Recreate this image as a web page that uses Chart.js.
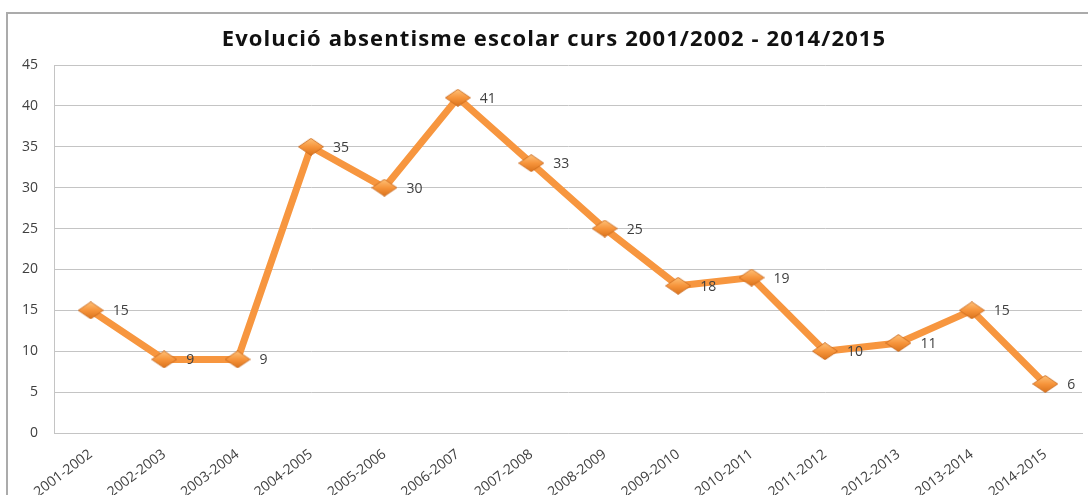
<!DOCTYPE html>
<html>
<head>
<meta charset="utf-8">
<script src="https://cdn.jsdelivr.net/npm/chart.js@4/dist/chart.umd.min.js"></script>
<style>
  html, body { margin: 0; padding: 0; background: #fff; overflow: hidden; }
  body { width: 1088px; height: 495px; position: relative; }
  .frame {
    position: absolute; left: 6px; top: 12px;
    width: 1100px; height: 500px;
    border: 2px solid #ababab;
  }
  .title {
    position: absolute; left: 0; width: 1108px; top: 22px;
    text-align: center;
    font: bold 22px "Open Sans", sans-serif;
    letter-spacing: 1.1px;
    color: #111;
  }
  canvas { position: absolute; left: 0; top: 0; }
</style>
</head>
<body>
<div class="frame">
  <canvas id="lineChart" width="1100" height="500"></canvas>
</div>
<div class="title">Evolució absentisme escolar curs 2001/2002 - 2014/2015</div>
<script>
const courses = ['2001-2002', '2002-2003', '2003-2004', '2004-2005', '2005-2006', '2006-2007', '2007-2008',
  '2008-2009', '2009-2010', '2010-2011', '2011-2012', '2012-2013', '2013-2014', '2014-2015'];
const absences = [15, 9, 9, 35, 30, 41, 33, 25, 18, 19, 10, 11, 15, 6];
const yTicks = [0, 5, 10, 15, 20, 25, 30, 35, 40, 45];

const textColor = '#404040';
const gridColor = '#c4c4c4';

// flattened diamond marker, like the Excel 3D-ish one
function makeDiamond() {
  const c = document.createElement('canvas');
  c.width = 26; c.height = 18;
  const g = c.getContext('2d');
  const grad = g.createLinearGradient(0, 0, 0, 18);
  grad.addColorStop(0, '#ffc47c');
  grad.addColorStop(0.5, '#f7953c');
  grad.addColorStop(1, '#d9711a');
  g.beginPath();
  g.moveTo(13, 0.5);
  g.lineTo(25.5, 9);
  g.lineTo(13, 17.5);
  g.lineTo(0.5, 9);
  g.closePath();
  g.fillStyle = grad;
  g.fill();
  g.strokeStyle = '#c7661a';
  g.lineWidth = 0.8;
  g.stroke();
  return c;
}

const valueLabels = {
  id: 'valueLabels',
  afterDatasetsDraw(chart) {
    const ctx = chart.ctx;
    const meta = chart.getDatasetMeta(0);
    ctx.save();
    ctx.font = '14px "Open Sans", sans-serif';
    ctx.fillStyle = textColor;
    ctx.textAlign = 'left';
    ctx.textBaseline = 'middle';
    meta.data.forEach((pt, i) => {
      ctx.fillText(String(absences[i]), pt.x + 22, pt.y + 1);
    });
    ctx.restore();
  }
};

new Chart(document.getElementById('lineChart').getContext('2d'), {
  type: 'line',
  data: {
    labels: courses,
    datasets: [{
      data: absences,
      borderColor: '#f7963f',
      borderWidth: 7,
      borderJoinStyle: 'miter',
      tension: 0,
      pointStyle: makeDiamond(),
      pointRadius: 10,
      pointHoverRadius: 10
    }]
  },
  options: {
    responsive: false,
    animation: false,
    devicePixelRatio: 1,
    layout: { padding: { top: 51, right: 26, left: 0, bottom: 0 } },
    plugins: {
      legend: { display: false },
      title: { display: false },
      tooltip: { enabled: false }
    },
    scales: {
      x: {
        offset: true,
        grid: { display: false, drawTicks: false },
        border: { color: gridColor, width: 1 },
        ticks: {
          color: textColor,
          font: { family: '"Open Sans", sans-serif', size: 14 },
          minRotation: 37,
          maxRotation: 37,
          padding: 13,
          autoSkip: false
        },
        afterFit(scale) { scale.height = 81; }
      },
      y: {
        min: 0,
        max: 45,
        afterBuildTicks(scale) { scale.ticks = yTicks.map(v => ({ value: v })); },
        grid: { color: gridColor, lineWidth: 1, drawTicks: false },
        border: { color: gridColor, width: 1 },
        ticks: {
          color: textColor,
          font: { family: '"Open Sans", sans-serif', size: 14 },
          padding: 16
        },
        afterFit(scale) { scale.width = 46; }
      }
    }
  },
  plugins: [valueLabels]
});
</script>
</body>
</html>
